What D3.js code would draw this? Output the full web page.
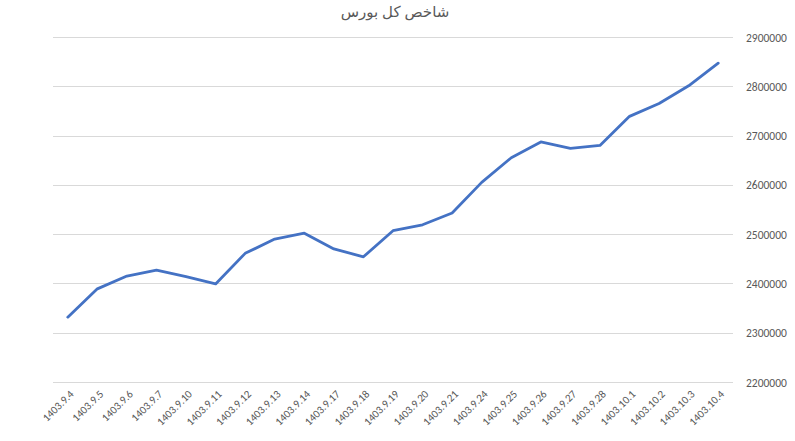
<!DOCTYPE html>
<html>
<head>
<meta charset="utf-8">
<script src="https://cdn.jsdelivr.net/npm/d3@7"></script>
<style>
  body { margin: 0; background: #fff; }
  text { font-family: Calibri, "Liberation Sans", "Noto Sans", sans-serif; fill: #595959; }
</style>
</head>
<body>
<div class="container"></div>
<script>
const title = "شاخص کل بورس";

const dates = [
  "1403.9.4", "1403.9.5", "1403.9.6", "1403.9.7", "1403.9.10", "1403.9.11",
  "1403.9.12", "1403.9.13", "1403.9.14", "1403.9.17", "1403.9.18", "1403.9.19",
  "1403.9.20", "1403.9.21", "1403.9.24", "1403.9.25", "1403.9.26", "1403.9.27",
  "1403.9.28", "1403.10.1", "1403.10.2", "1403.10.3", "1403.10.4"
];

const values = [
  2331600, 2389000, 2415000, 2427000, 2414000, 2399000,
  2461000, 2490000, 2502000, 2470000, 2454000, 2507000,
  2519000, 2543000, 2605000, 2655000, 2687000, 2674000,
  2680000, 2739000, 2765000, 2801000, 2847000
];

const yTicks = [2200000, 2300000, 2400000, 2500000, 2600000, 2700000, 2800000, 2900000];

let width = 795, height = 441;
let margin = { left: 53, right: 62, top: 37, bottom: 59 };

let svg = d3.select(".container")
  .append("svg")
  .attr("width", width)
  .attr("height", height);

let x = d3.scaleBand()
  .domain(dates)
  .range([margin.left, width - margin.right]);

let y = d3.scaleLinear()
  .domain([2200000, 2900000])
  .range([height - margin.bottom, margin.top]);

// gridlines
svg.append("g")
  .selectAll("line")
  .data(yTicks)
  .enter().append("line")
  .attr("x1", margin.left)
  .attr("x2", width - margin.right)
  .attr("y1", d => Math.round(y(d)) + 0.5)
  .attr("y2", d => Math.round(y(d)) + 0.5)
  .attr("stroke", "#d9d9d9")
  .attr("stroke-width", 1);

// right axis labels
let yAxis = svg.append("g")
  .attr("transform", `translate(${width - margin.right + 13},0)`)
  .call(d3.axisRight(y).tickValues(yTicks).tickSize(0).tickFormat(d3.format("d")));
yAxis.select(".domain").remove();
yAxis.selectAll("text")
  .attr("x", 0)
  .attr("dy", "0.35em")
  .style("font-size", "11.5px")
  .style("fill", "#595959");

// x labels
let xAxis = svg.append("g")
  .attr("transform", `translate(0,${height - margin.bottom})`)
  .call(d3.axisBottom(x).tickSize(0));
xAxis.select(".domain").remove();
xAxis.selectAll("text")
  .attr("transform", "translate(4,10) rotate(-45)")
  .attr("text-anchor", "end")
  .attr("dy", "0.35em")
  .attr("y", 0)
  .attr("x", 0)
  .style("font-size", "11px")
  .style("fill", "#595959");

// line
let line = d3.line()
  .x((d, i) => x(dates[i]) + x.bandwidth() / 2)
  .y(d => y(d));

svg.append("path")
  .datum(values)
  .attr("fill", "none")
  .attr("stroke", "#4472C4")
  .attr("stroke-width", 2.8)
  .attr("stroke-linejoin", "round")
  .attr("stroke-linecap", "round")
  .attr("d", line);

// title
svg.append("text")
  .attr("x", 395)
  .attr("y", 17)
  .attr("text-anchor", "middle")
  .style("font-family", "'Noto Sans', 'DejaVu Sans', sans-serif")
  .style("font-size", "15px")
  .style("fill", "#595959")
  .text(title);
</script>
</body>
</html>
